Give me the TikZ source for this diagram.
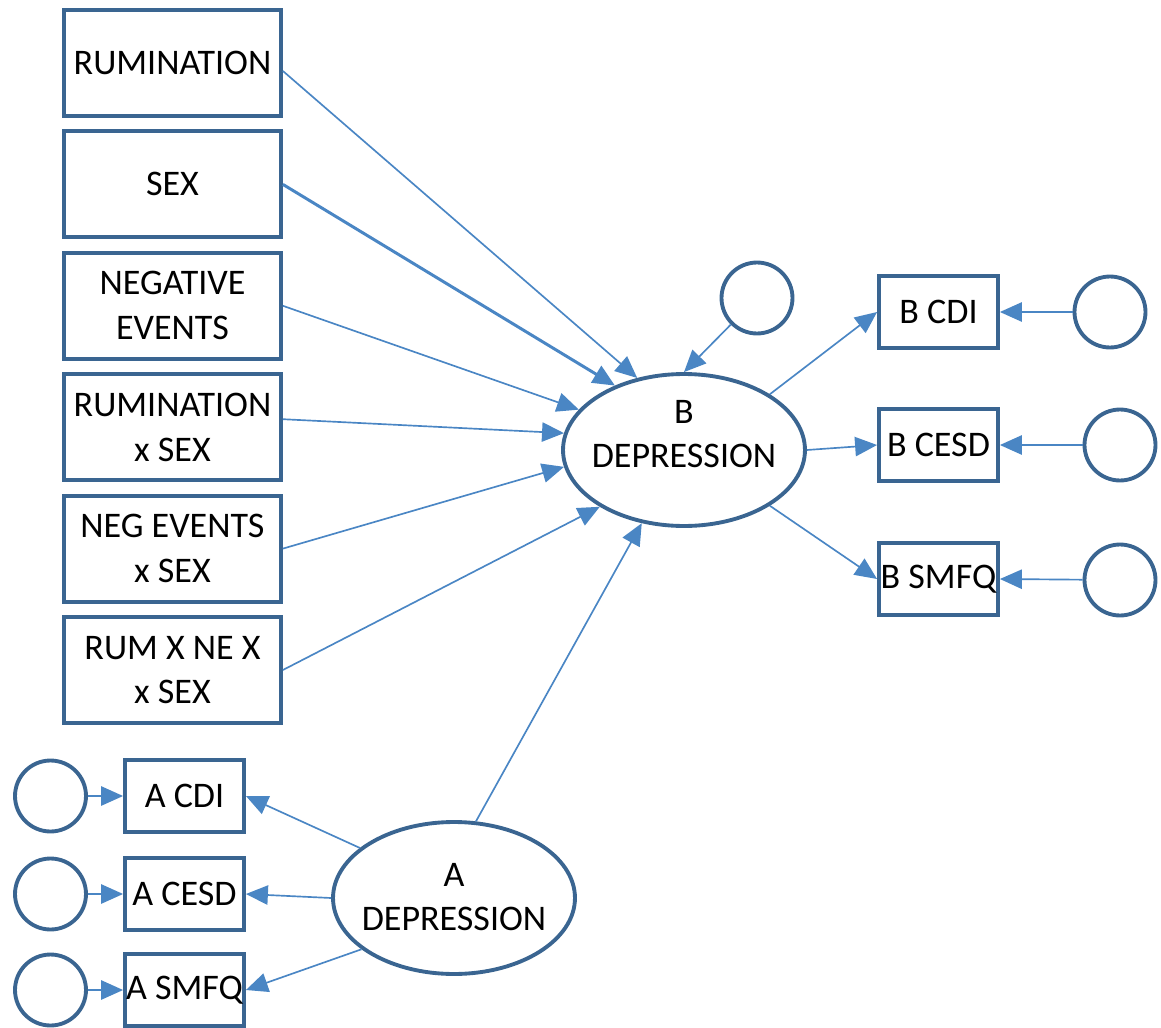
\documentclass[tikz,border=0pt]{standalone}
\usepackage{fontspec}
\setmainfont{Carlito}
\usetikzlibrary{arrows.meta,shapes.geometric,calc}
\definecolor{edgeblue}{HTML}{3A6591}
\definecolor{pathblue}{HTML}{4A86C4}

\begin{document}
\begin{tikzpicture}[x=0.02cm,y=-0.02cm,
  every node/.style={font=\fontsize{20.5}{25.5}\selectfont, text=black},
  obs/.style={draw=edgeblue, line width=2.2pt, rectangle, inner sep=0pt, align=center, fill=white},
  bigobs/.style={obs, minimum width=4.34cm, minimum height=2.12cm},
  indic/.style={obs, minimum width=2.38cm, minimum height=1.44cm},
  errc/.style={draw=edgeblue, line width=2.2pt, circle, inner sep=0pt, minimum size=1.42cm},
  latent/.style={draw=edgeblue, line width=2.2pt, ellipse, inner sep=0pt, minimum width=4.84cm, minimum height=3.04cm},
  lbl/.style={align=center, inner sep=0pt},
  path/.style={draw=pathblue, line width=0.95pt, -{Triangle[length=12.5pt,width=11pt]}},
  boldpath/.style={path, line width=1.7pt}
]
\useasboundingbox (0,0) rectangle (1161,1028);

% predictors
\node[bigobs] (rum) at (172.5,63)    {RUMINATION};
\node[bigobs] (sex) at (172.5,184.4) {SEX};
\node[bigobs] (neg) at (172.5,305.8) {NEGATIVE\\EVENTS};
\node[bigobs] (rxs) at (172.5,427.2) {RUMINATION\\x SEX};
\node[bigobs] (nxs) at (172.5,548.6) {NEG EVENTS\\x SEX};
\node[bigobs] (rnx) at (172.5,670)   {RUM X NE X\\x SEX};

% time B latent factor
\node[latent] (bdep) at (684,450) {};
\node[lbl] (btxt) at (684,434) {B\\DEPRESSION};
\node[errc] (bres) at (757,298) {};

\node[indic] (bcdi)  at (938.5,312) {B CDI};
\node[indic] (bcesd) at (938.5,445) {B CESD};
\node[indic] (bsmfq) at (938.5,579) {B SMFQ};
\node[errc] (eb1) at (1110,312) {};
\node[errc] (eb2) at (1120,445) {};
\node[errc] (eb3) at (1120,580) {};

% time A latent factor
\node[latent] (adep) at (454,898) {};
\node[lbl] (atxt) at (454,897) {A\\DEPRESSION};

\node[indic] (acdi)  at (184.5,796) {A CDI};
\node[indic] (acesd) at (184.5,894) {A CESD};
\node[indic] (asmfq) at (184.5,990) {A SMFQ};
\node[errc] (ea1) at (50.5,796) {};
\node[errc] (ea2) at (50.5,894) {};
\node[errc] (ea3) at (50.5,990) {};

% structural paths into B
\draw[path]     ($(rum.east)+(0,8)$) -- (bdep.123);
\draw[boldpath] (sex.east) -- (bdep.137);
\draw[path]     (neg.east) -- (bdep.159);
\draw[path]     ($(rxs.east)+(0,-8)$) -- (bdep.172);
\draw[path]     (nxs.east) -- (bdep.188);
\draw[path]     (rnx.east) -- (bdep.214);
\draw[path]     (adep.74) -- (bdep.240);
\draw[path]     (bres) -- (bdep.90);

% measurement model B
\draw[path] (bdep.33) -- (bcdi.west);
\draw[path] (bdep.east) -- (bcesd.west);
\draw[path] (bdep.-33) -- (bsmfq.west);
\draw[path] (eb1) -- (bcdi.east);
\draw[path] (eb2) -- (bcesd.east);
\draw[path] (eb3) -- (bsmfq.east);

% measurement model A
\draw[path] (adep.152) -- (acdi.east);
\draw[path] (adep.west) -- (acesd.east);
\draw[path] (adep.209) -- (asmfq.east);
\draw[path] (ea1) -- (acdi.west);
\draw[path] (ea2) -- (acesd.west);
\draw[path] (ea3) -- (asmfq.west);
\end{tikzpicture}
\end{document}
